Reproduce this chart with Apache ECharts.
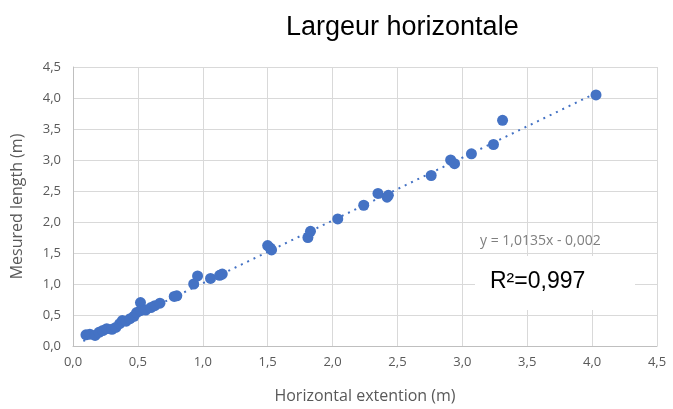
<!DOCTYPE html>
<html><head><meta charset="utf-8">
<script src="https://cdn.jsdelivr.net/npm/echarts@6/dist/echarts.min.js"></script>
<style>html,body{margin:0;padding:0;background:#fff}#c{width:673px;height:409px}</style>
</head><body><div id="c"></div>
<script>
const titleText = "Largeur horizontale";
const xName = "Horizontal extention (m)";
const yName = "Mesured length (m)";
const xValues = [0.10,0.13,0.17,0.20,0.23,0.26,0.30,0.33,0.36,0.38,0.41,0.44,0.47,0.49,0.52,0.52,0.56,0.60,0.63,0.67,0.78,0.80,0.93,0.96,1.06,1.13,1.15,1.50,1.52,1.53,1.81,1.83,2.04,2.24,2.35,2.42,2.43,2.76,2.91,2.94,3.07,3.24,3.31,4.03];
const yValues = [0.18,0.19,0.17,0.22,0.25,0.28,0.27,0.30,0.36,0.41,0.40,0.44,0.48,0.54,0.70,0.57,0.58,0.62,0.65,0.69,0.80,0.81,1.00,1.13,1.09,1.14,1.16,1.62,1.58,1.55,1.75,1.85,2.05,2.27,2.46,2.40,2.43,2.75,3.00,2.94,3.10,3.25,3.64,4.05];
const trendX = [0.08, 4.03];
const trendY = [0.08, 4.08];
const equationText = "y = 1,0135x - 0,002";
const r2Text = "R²=0,997";
const tickLabels = ["0,0","0,5","1,0","1,5","2,0","2,5","3,0","3,5","4,0","4,5"];

const pts = xValues.map((x,i)=>[x,yValues[i]]);
const trend = trendX.map((x,i)=>[x,trendY[i]]);
const fmt = v => tickLabels[Math.round(v/0.5)] ?? v;
const blue = '#4472C4';
const labelFont = {color:'#595959', fontSize:13, fontFamily:'Open Sans'};
const nameFont = {color:'#595959', fontSize:16, fontFamily:'Open Sans'};

const chart = echarts.init(document.getElementById('c'));
chart.setOption({
  animation:false,
  title:{text:titleText, left:281, top:9, textStyle:{fontFamily:'Liberation Sans', fontSize:27, fontWeight:'normal', color:'#000'}},
  grid:{left:73, right:16, top:67, bottom:62},
  xAxis:{type:'value', min:0, max:4.5, interval:0.5,
    name:xName, nameLocation:'middle', nameGap:42, nameTextStyle:nameFont,
    axisLine:{show:true, lineStyle:{color:'#bfbfbf'}}, axisTick:{show:false},
    axisLabel:Object.assign({formatter:fmt, margin:10}, labelFont),
    splitLine:{show:true, lineStyle:{color:'#d9d9d9', width:1}}},
  yAxis:{type:'value', min:0, max:4.5, interval:0.5,
    name:yName, nameLocation:'middle', nameGap:48, nameRotate:90, nameTextStyle:nameFont,
    axisLine:{show:true, lineStyle:{color:'#bfbfbf'}}, axisTick:{show:false},
    axisLabel:Object.assign({formatter:fmt, margin:12}, labelFont),
    splitLine:{show:true, lineStyle:{color:'#d9d9d9', width:1}}},
  series:[
    {type:'line', data:trend, symbol:'none', lineStyle:{color:blue, width:2, type:[2,5]}, z:1},
    {type:'scatter', data:pts, symbolSize:11, itemStyle:{color:blue, opacity:1}, z:3}
  ],
  graphic:[
    {type:'rect', shape:{x:475, y:256, width:160, height:54}, style:{fill:'#fff'}, z:10},
    {type:'text', x:480, y:234, style:{text:equationText, fill:'#7f7f7f', fontSize:14, fontFamily:'Open Sans'}, z:11},
    {type:'text', x:490, y:270, style:{text:r2Text, fill:'#000', fontSize:23, fontFamily:'Liberation Sans'}, z:11}
  ]
});
</script></body></html>
